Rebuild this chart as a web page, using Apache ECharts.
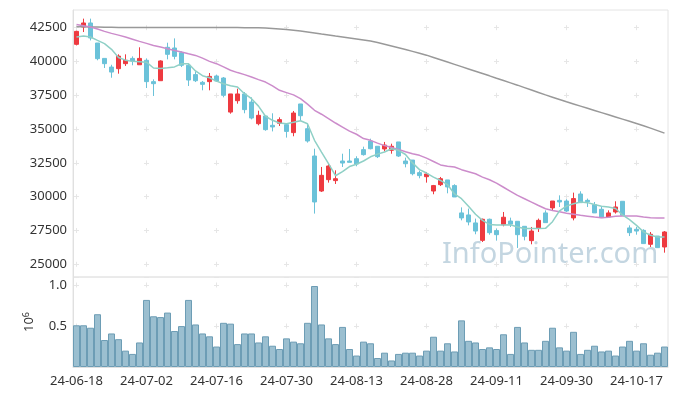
<!DOCTYPE html>
<html><head><meta charset="utf-8">
<script src="https://cdn.jsdelivr.net/npm/echarts@6/dist/echarts.min.js"></script>
<style>html,body{margin:0;padding:0;background:#fff}#c{width:677px;height:396px}</style>
</head><body><div id="c"></div>
<script>
const dates = ['24-06-18','24-06-19','24-06-20','24-06-21','24-06-24','24-06-25','24-06-26','24-06-27','24-06-28','24-07-01',
'24-07-02','24-07-03','24-07-04','24-07-05','24-07-08','24-07-09','24-07-10','24-07-11','24-07-12','24-07-15',
'24-07-16','24-07-17','24-07-18','24-07-19','24-07-22','24-07-23','24-07-24','24-07-25','24-07-26','24-07-29',
'24-07-30','24-07-31','24-08-01','24-08-02','24-08-05','24-08-06','24-08-07','24-08-08','24-08-09','24-08-12',
'24-08-13','24-08-14','24-08-16','24-08-19','24-08-20','24-08-21','24-08-22','24-08-23','24-08-26','24-08-27',
'24-08-28','24-08-29','24-08-30','24-09-02','24-09-03','24-09-04','24-09-05','24-09-06','24-09-09','24-09-10',
'24-09-11','24-09-12','24-09-13','24-09-19','24-09-20','24-09-23','24-09-24','24-09-25','24-09-26','24-09-27',
'24-09-30','24-10-02','24-10-04','24-10-07','24-10-08','24-10-10','24-10-11','24-10-14','24-10-15','24-10-16',
'24-10-17','24-10-18','24-10-21','24-10-22','24-10-23'];
const opens = [41270,42550,42850,41370,40230,39590,39470,39840,40230,39760,
40090,38510,38580,41050,41000,40650,39720,39030,38460,38510,
38930,38780,36260,37100,37600,37000,35400,35970,35280,35430,
35330,34740,36860,35030,33010,30420,31260,31190,32640,32640,
32810,33480,34120,33730,33530,33430,34050,32640,32710,31780,
31480,30420,30890,31240,30820,28800,28650,28060,26770,28330,
27490,27930,28200,28180,27810,26750,27690,28800,29170,29730,
29680,28430,30200,29730,29410,29070,28500,28870,29660,27690,
27590,27510,26480,27090,26280];
const closes = [42230,42850,41740,40210,39840,39220,40400,40090,40040,40230,
38510,38360,40040,40530,40380,39720,38630,38580,38310,38900,
38560,37500,37600,37600,36440,35820,36020,34960,35160,35700,
34830,36190,35990,34120,29610,31580,32270,31330,32490,32540,
32420,33110,33550,32960,33820,33730,33010,32440,31700,31560,
31680,30820,31330,30720,29980,28430,28130,27460,28330,27340,
27190,28480,27980,27190,27070,27460,28250,28080,29680,29610,
28940,29860,29560,29630,28800,28450,28800,29240,28620,27340,
27460,26530,27220,26230,27390];
const lows = [41190,42180,41560,40090,39520,38800,39100,39670,39720,39760,
38040,37450,38580,40160,40160,39590,38190,38480,37870,37870,
38500,37350,36140,36880,36170,35720,35280,34880,34830,35230,
34370,34470,35600,34000,28750,30350,31040,30940,32200,32540,
32250,33040,33500,32860,33360,33180,32940,32170,31580,31360,
31040,30180,30790,30250,29980,28250,27880,27220,26650,27190,
26750,27810,27760,26210,26770,26480,27390,28080,28940,29240,
28870,28250,29560,29240,28800,28450,28500,28750,28570,27090,
27190,26530,26280,26230,25860];
const highs = [42280,43170,43170,41370,40230,39760,40530,40530,40380,41050,
40230,38680,40090,41390,41710,40750,39840,39270,38560,39150,
39030,38850,37600,37990,37740,37350,36360,35970,36170,35870,
35450,36340,36860,35430,33550,32200,32440,31950,33180,33530,
32990,33700,34290,33730,34050,33920,34050,32890,32710,31930,
31830,30870,31460,31240,30920,29210,29120,28380,28380,28380,
27640,28870,28450,28180,27810,27760,28380,28990,29680,30100,
29810,30300,30400,29860,29610,29240,28990,29660,29660,27880,
27760,27590,27390,27090,27460];
const ma5 = [41810,41880,41810,41560,41320,40900,40300,40100,40010,39990,
39950,39520,39480,39530,39600,39830,39840,39300,38950,38800,
38550,38360,38200,38110,37620,37250,36700,35950,35650,35450,
35400,35500,35620,35400,34170,33300,32450,31550,31850,32230,
32400,32640,32950,33150,33310,33550,33430,33120,32500,32000,
31750,31450,31200,30900,30200,29850,29300,28700,28250,27950,
27900,27900,27930,27760,27640,27640,27640,27660,28150,28950,
29300,29480,29600,29560,29420,29290,29240,29130,28650,28300,
27880,27400,27150,27020,27020];
const ma20 = [42740,42650,42550,42400,42230,42080,41950,41810,41650,41490,
41340,41190,41070,40950,40820,40700,40570,40450,40250,40010,
39840,39600,39350,39180,39030,38850,38660,38480,38200,37870,
37700,37530,37250,36850,36390,36100,35780,35450,35150,34850,
34620,34300,34170,33960,33780,33640,33500,33330,33180,33060,
32850,32600,32350,32250,32200,32000,31850,31700,31450,31250,
31000,30700,30400,30100,29850,29600,29350,29110,28980,28880,
28780,28700,28620,28560,28500,28450,28480,28560,28580,28580,
28570,28500,28440,28420,28420];
const ma120 = [42580,42570,42560,42550,42540,42530,42520,42520,42510,42510,
42510,42510,42510,42520,42520,42520,42520,42520,42510,42510,
42510,42510,42510,42510,42500,42500,42490,42480,42450,42410,
42370,42320,42260,42190,42110,42030,41960,41880,41810,41740,
41670,41590,41510,41400,41280,41150,41020,40890,40750,40610,
40470,40300,40130,39960,39790,39620,39450,39280,39110,38940,
38760,38590,38420,38250,38070,37890,37710,37530,37360,37190,
37020,36860,36700,36540,36380,36220,36060,35900,35740,35580,
35420,35250,35070,34890,34700];
const volumes = [0.51,0.51,0.48,0.645,0.33,0.41,0.34,0.20,0.16,0.30,
0.82,0.62,0.61,0.665,0.44,0.50,0.82,0.52,0.41,0.375,
0.25,0.54,0.53,0.28,0.41,0.41,0.30,0.375,0.26,0.22,
0.35,0.31,0.29,0.54,0.99,0.52,0.35,0.28,0.49,0.22,
0.14,0.31,0.29,0.11,0.175,0.08,0.16,0.175,0.175,0.14,
0.20,0.37,0.20,0.29,0.19,0.57,0.32,0.30,0.22,0.24,
0.22,0.40,0.16,0.49,0.30,0.21,0.21,0.32,0.48,0.24,
0.20,0.43,0.16,0.21,0.26,0.19,0.20,0.14,0.25,0.32,
0.20,0.29,0.15,0.175,0.25];
const priceTicks = [25000,27500,30000,32500,35000,37500,40000,42500];
const volTicks = [0.5,1.0];

const UP = '#ee3a40', DOWN = '#6bc2d9';
const gridLineColor = '#e6e6e6';
const font = '"Noto Sans", sans-serif';
const chart = echarts.init(document.getElementById('c'), null, {renderer:'canvas'});
chart.setOption({
  animation:false,
  backgroundColor:'#fff',
  graphic:[{type:'text', left:442, top:240, z:0, silent:true,
    style:{text:'InfoPointer.com', font:'29px "Noto Sans"', fill:'#c4d6e1'}}],
  grid:[
    {left:73, right:9, top:10, height:267, show:true, borderColor:'#e4e4e4', borderWidth:1, backgroundColor:'transparent'},
    {left:73, right:9, top:277, height:90, show:true, borderColor:'#e4e4e4', borderWidth:1, backgroundColor:'transparent'},
    {left:73, right:9, top:27.7, height:236.6}
  ],
  xAxis:[
    {type:'category', gridIndex:0, data:dates, boundaryGap:true,
      axisLine:{show:false}, axisTick:{show:false}, axisLabel:{show:false},
      splitLine:{show:true, interval:9, alignWithLabel:true, lineStyle:{color:gridLineColor, width:1, type:[5,28.8], dashOffset:18.6}}},
    {type:'category', gridIndex:1, data:dates, boundaryGap:true,
      axisLine:{show:true, lineStyle:{color:'#e0e0e0'}}, axisTick:{show:false},
      axisLabel:{interval:9, color:'#333', fontSize:13, fontFamily:font, margin:8},
      splitLine:{show:true, interval:9, alignWithLabel:true, lineStyle:{color:gridLineColor, width:1, type:[5,36], dashOffset:35.5}}},
    {type:'category', gridIndex:2, data:dates, boundaryGap:true, show:false}
  ],
  yAxis:[
    {type:'value', gridIndex:0, min:24060, max:43810, scale:true,
      axisLine:{show:true, lineStyle:{color:'#e0e0e0'}}, axisTick:{show:false}, axisLabel:{show:false}, splitLine:{show:false}},
    {type:'value', gridIndex:1, min:0, max:1.1, interval:0.5,
      axisLine:{show:true, lineStyle:{color:'#e0e0e0'}}, axisTick:{show:false},
      axisLabel:{color:'#333', fontSize:13, fontFamily:font, margin:6, showMinLabel:false, showMaxLabel:false,
        formatter:v => volTicks.some(t => Math.abs(t - v) < 1e-9) ? v.toFixed(1) : ''},
      splitLine:{show:true, lineStyle:{color:gridLineColor, width:1, type:[5,65], dashOffset:69}},
      name:'10{s|6}', nameLocation:'middle', nameRotate:90, nameGap:36,
      nameTextStyle:{color:'#333', fontSize:13, fontFamily:font, rich:{s:{fontSize:9, verticalAlign:'top', color:'#333', fontFamily:font, padding:[0,0,6,0]}}}},
    {type:'value', gridIndex:2, min:priceTicks[0], max:priceTicks[priceTicks.length-1], interval:priceTicks[1]-priceTicks[0],
      axisLine:{show:false}, axisTick:{show:false},
      axisLabel:{color:'#333', fontSize:13, fontFamily:font, margin:6, formatter:v => String(v)},
      splitLine:{show:true, lineStyle:{color:gridLineColor, width:1, type:[5,65], dashOffset:69}}}
  ],
  series:[
    {type:'candlestick', xAxisIndex:0, yAxisIndex:0, barWidth:5, clip:false,
      data:dates.map((d,i)=>[opens[i], closes[i], lows[i], highs[i]]),
      itemStyle:{color:UP, color0:DOWN, borderColor:UP, borderColor0:DOWN, borderWidth:1}},
    {type:'line', name:'MA120', xAxisIndex:0, yAxisIndex:0, data:ma120, showSymbol:false, symbol:'none',
      lineStyle:{color:'#999999', width:1.5}, z:3},
    {type:'line', name:'MA20', xAxisIndex:0, yAxisIndex:0, data:ma20, showSymbol:false, symbol:'none',
      lineStyle:{color:'#cc8ccb', width:1.5}, z:3},
    {type:'line', name:'MA5', xAxisIndex:0, yAxisIndex:0, data:ma5, showSymbol:false, symbol:'none',
      lineStyle:{color:'#8fd0c6', width:1.5}, z:3},
    {type:'bar', xAxisIndex:1, yAxisIndex:1, data:volumes, barCategoryGap:'0%',
      itemStyle:{color:'#9bbfd0', borderColor:'#6d9db5', borderWidth:1}}
  ]
});
</script></body></html>
